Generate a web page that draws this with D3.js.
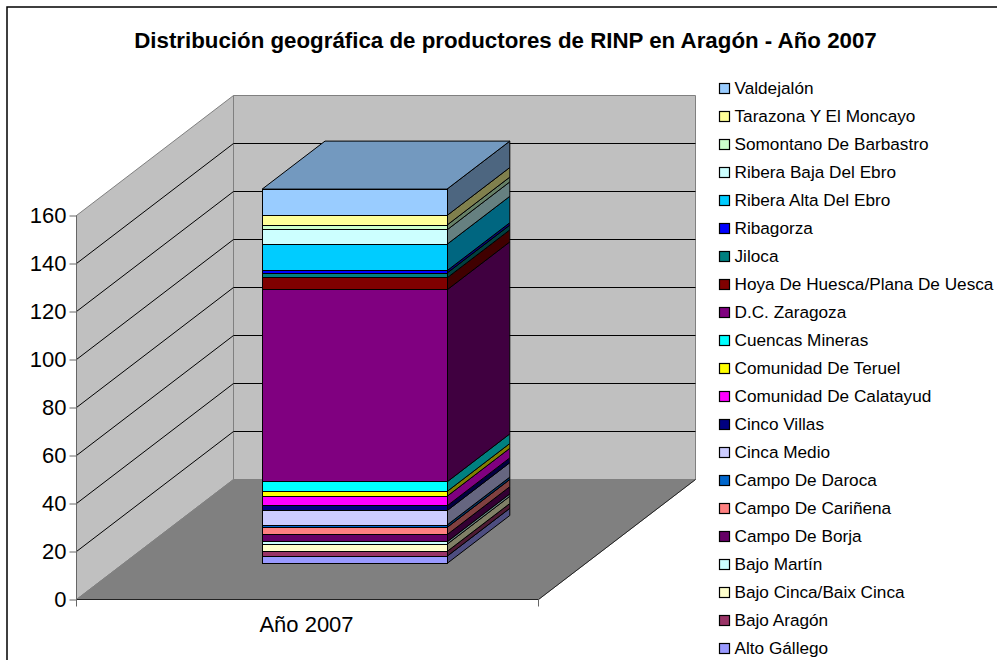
<!DOCTYPE html>
<html><head><meta charset="utf-8">
<script src="https://cdn.jsdelivr.net/npm/d3@7"></script>
<style>html,body{margin:0;padding:0;background:#fff;overflow:hidden}svg{display:block}text{font-family:"Liberation Sans",Arial,sans-serif;fill:#000}</style>
</head><body><svg id="c" width="997" height="660"></svg>
<script>
const title = "Distribución geográfica de productores de RINP en Aragón - Año 2007";
const categories = ["Año 2007"];
const seriesNames = ["Alto Gállego","Bajo Aragón","Bajo Cinca/Baix Cinca","Bajo Martín","Campo De Borja","Campo De Cariñena","Campo De Daroca","Cinca Medio","Cinco Villas","Comunidad De Calatayud","Comunidad De Teruel","Cuencas Mineras","D.C. Zaragoza","Hoya De Huesca/Plana De Uesca","Jiloca","Ribagorza","Ribera Alta Del Ebro","Ribera Baja Del Ebro","Somontano De Barbastro","Tarazona Y El Moncayo","Valdejalón"];
const seriesValues = [3,2,3,1,3,3,1,6,2,4,2,4,80,5,2,1,11,6,2,4,11];
const seriesColors = ["#9999FF","#993366","#FFFFCC","#CCFFFF","#660066","#FF8080","#0066CC","#CCCCFF","#000080","#FF00FF","#FFFF00","#00FFFF","#800080","#800000","#008080","#0000FF","#00CCFF","#CCFFFF","#CCFFCC","#FFFF99","#99CCFF"];
const yTicks = [0,20,40,60,80,100,120,140,160];

const svg = d3.select("#c");
const x0=76.5, x1=538.5, y0=599.5, y160=215.5, dx=157, dy=-120;
const y = d3.scaleLinear().domain([0,160]).range([y0,y160]);
const band = d3.scaleBand().domain(categories).range([x0,x1]).paddingInner(0.6).paddingOuter(0.3);
const depthX = d3.scaleLinear().domain([0,1]).range([0,dx]);
const depthY = d3.scaleLinear().domain([0,1]).range([0,dy]);
const poly = pts => pts.map(p=>p.join(",")).join(" ");

svg.append("rect").attr("x",7).attr("y",7).attr("width",1100).attr("height",800).attr("fill","#fff").attr("stroke","#000").attr("stroke-width",1.5);

svg.append("text").attr("x",505.5).attr("y",47.5).attr("text-anchor","middle").attr("font-weight","bold").attr("font-size",22.3).text(title);

// walls and floor
const wall={fill:"#C0C0C0",stroke:"#808080"};
svg.append("polygon").attr("points",poly([[x0,y(0)],[x0+dx,y(0)+dy],[x0+dx,y(160)+dy],[x0,y(160)]])).attr("fill",wall.fill).attr("stroke",wall.stroke).attr("stroke-width",1);
svg.append("polygon").attr("points",poly([[x0+dx,y(0)+dy],[x1+dx,y(0)+dy],[x1+dx,y(160)+dy],[x0+dx,y(160)+dy]])).attr("fill",wall.fill).attr("stroke",wall.stroke).attr("stroke-width",1);
svg.append("polygon").attr("points",poly([[x0,y(0)],[x1,y(0)],[x1+dx,y(0)+dy],[x0+dx,y(0)+dy]])).attr("fill","#808080").attr("stroke","#808080");

// gridlines
yTicks.filter(t=>t>0&&t<160).forEach(t=>{
  svg.append("polyline").attr("points",poly([[x0,y(t)],[x0+dx,y(t)+dy],[x1+dx,y(t)+dy]])).attr("fill","none").attr("stroke","#000").attr("stroke-width",1);
});
// front floor edges
svg.append("line").attr("x1",x1).attr("y1",y0).attr("x2",x1+dx).attr("y2",y0+dy).attr("stroke","#222").attr("stroke-width",1);
svg.append("line").attr("x1",x0).attr("x2",x1).attr("y1",y0).attr("y2",y0).attr("stroke","#222").attr("stroke-width",1);

// axes
const axisL = d3.axisLeft(y).tickValues(yTicks).tickSize(7).tickPadding(3);
const gy = svg.append("g").attr("transform",`translate(${x0},0)`).call(axisL);
gy.selectAll("text").attr("font-size",22).attr("font-family",null).attr("dy","0.3em");
gy.selectAll("line,path").attr("stroke","#666");
gy.select("path").attr("d",`M0,${y160}V${y0+7}`);
svg.append("line").attr("x1",x1).attr("x2",x1).attr("y1",y0).attr("y2",y0+7).attr("stroke","#666");
svg.append("text").attr("x",band(categories[0])+band.bandwidth()/2-1).attr("y",631.5).attr("text-anchor","middle").attr("font-size",22).text(categories[0]);

// stacked 3D bar
const stack = d3.stack().keys(seriesNames.map((_,i)=>i))([seriesValues]);
const bx0=band(categories[0])+depthX(0.3), bw=band.bandwidth(), bdx=depthX(0.4), bdy=depthY(0.4), off=depthY(0.3);
const col=(c,k)=>{const r=d3.rgb(c);return d3.rgb(r.r*k,r.g*k,r.b*k).formatHex();};
const barY=v=>y(v)+off;
stack.forEach((s,i)=>{
  const a=s[0][0], b=s[0][1], c=seriesColors[i];
  const g=svg.append("g").attr("stroke","#000").attr("stroke-width",1).attr("stroke-linejoin","round");
  g.append("polygon").attr("points",poly([[bx0+bw,barY(a)],[bx0+bw+bdx,barY(a)+bdy],[bx0+bw+bdx,barY(b)+bdy],[bx0+bw,barY(b)]])).attr("fill",col(c,0.5));
  g.append("polygon").attr("points",poly([[bx0,barY(a)],[bx0+bw,barY(a)],[bx0+bw,barY(b)],[bx0,barY(b)]])).attr("fill",c).attr("shape-rendering","crispEdges");
  if(i===stack.length-1)
    g.append("polygon").attr("points",poly([[bx0,barY(b)],[bx0+bw,barY(b)],[bx0+bw+bdx,barY(b)+bdy],[bx0+bdx,barY(b)+bdy]])).attr("fill",col(c,0.75));
});

// legend
const leg = d3.scalePoint().domain(d3.range(seriesNames.length)).range([88,648]);
seriesNames.map((n,i)=>i).reverse().forEach((i,k)=>{
  const ly=leg(k);
  svg.append("rect").attr("x",719.5).attr("y",ly-4.5).attr("width",10).attr("height",10).attr("fill",seriesColors[i]).attr("stroke","#000").attr("stroke-width",1.2);
  svg.append("text").attr("x",734.5).attr("y",ly+6).attr("font-size",17.2).text(seriesNames[i]);
});
</script></body></html>
